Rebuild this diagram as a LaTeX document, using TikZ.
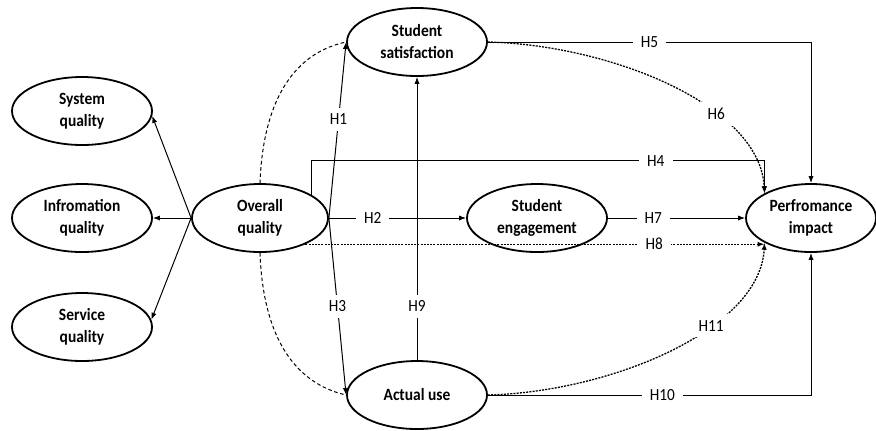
\documentclass[tikz,border=0pt]{standalone}
\usepackage{fontspec}
\setmainfont{Carlito}[FakeStretch=0.9]
\usetikzlibrary{arrows.meta,shapes.geometric}

\tikzset{
  construct/.style={ellipse, draw, line width=0.9pt, minimum width=70pt, minimum height=34pt,
    inner sep=0pt, align=center, font=\fontsize{8.6}{11}\selectfont\bfseries},
  link/.style={line width=0.5pt, -{Latex[length=3.5pt,width=2.6pt]}},
  dotlink/.style={link, line width=0.65pt, dash pattern=on 1pt off 0.6pt},
  dashlink/.style={line width=0.5pt, dash pattern=on 1.8pt off 1.3pt},
  hyp/.style={fill=white, inner xsep=4pt, inner ysep=3pt, font=\fontsize{8.5}{9}\selectfont},
}

\begin{document}
\begin{tikzpicture}[x=0.5pt,y=-0.5pt]
  \useasboundingbox (0,0) rectangle (876,430);

  \node[construct] (sq) at (82,111) {System\\quality};
  \node[construct] (iq) at (82,218) {Infromation\\quality};
  \node[construct] (sv) at (82,327) {Service\\quality};
  \node[construct, minimum width=68pt] (oq) at (260,218) {Overall\\quality};
  \node[construct] (ss) at (417,42) {Student\\satisfaction};
  \node[construct] (se) at (537,218) {Student\\engagement};
  \node[construct] (au) at (417,395) {Actual use};
  \node[construct, minimum width=65pt] (pi) at (811,218) {Perfromance\\impact};

  \draw[link] (oq.west) -- (sq.-4);
  \draw[link] (oq.west) -- (iq.east);
  \draw[link] (oq.west) -- (sv.6);

  \draw[dashlink] (oq.north) to[out=88,in=192] (ss.west);
  \draw[dashlink] (oq.south) to[out=-88,in=167] (au.west);

  \draw[link] (oq.east) -- node[hyp,pos=0.56] {H1} (ss.west);
  \draw[link] (oq.east) -- node[hyp,pos=0.32] {H2} (se.west);
  \draw[link] (oq.east) -- node[hyp,pos=0.5] {H3} (au.west);
  \draw[link] (oq.24) -- ++(0,-34) -| node[hyp,pos=0.38] {H4} (pi.152);
  \draw[link] (ss.east) -| node[hyp,pos=0.25] {H5} (pi.north);
  \draw[dotlink] (ss.east) .. controls (610,45) and (760,105) .. node[hyp,pos=0.66] {H6} (pi.152);
  \draw[link] (se.east) -- node[hyp,pos=0.33] {H7} (pi.west);
  \draw[dotlink] (oq.-30) -- node[hyp,pos=0.76] {H8} (oq.-30 -| pi.-152);
  \draw[link] (au.north) -- node[hyp,pos=0.19] {H9} (ss.south);
  \draw[link] (au.east) -| node[hyp,pos=0.27] {H10} (pi.south);
  \draw[dotlink] (au.east) .. controls (610,392) and (760,330) .. node[hyp,pos=0.64] {H11} (pi.-152);
\end{tikzpicture}
\end{document}
